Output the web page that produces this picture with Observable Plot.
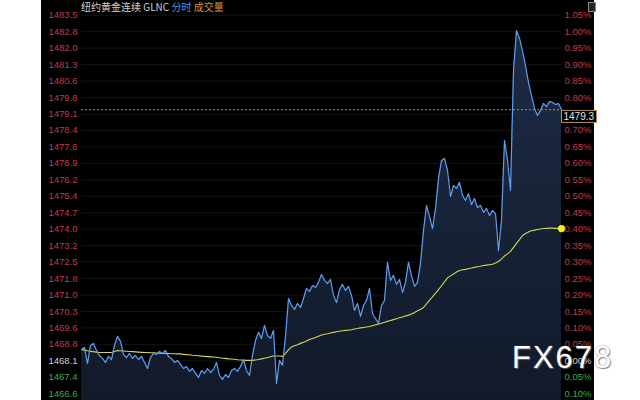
<!DOCTYPE html>
<html>
<head>
<meta charset="utf-8">
<script src="https://cdn.jsdelivr.net/npm/d3@7"></script>
<script src="https://cdn.jsdelivr.net/npm/@observablehq/plot@0.6"></script>
<style>
  html, body { margin: 0; padding: 0; background: #fff; }
  #wrap { position: relative; width: 640px; height: 400px; overflow: hidden; }
  #title { position: absolute; left: 81px; top: 0px; font-family: "Noto Sans CJK SC", sans-serif; font-size: 10px; line-height: 13px; white-space: nowrap; }
  #title .a { color: #cfcfcf; }
  #title .b { color: #4f8fdc; }
  #title .c { color: #d8913f; }
  #wm { position: absolute; left: 512px; top: 340px; font-family: "Liberation Sans", Arial, sans-serif; font-size: 31px; letter-spacing: 2px; color: #fff; text-shadow: 1px 1px 1px rgba(110,110,110,0.8), 0 0 2px rgba(90,90,90,0.6); white-space: nowrap; }
  #icon { position: absolute; left: 588px; top: 2px; width: 6px; height: 8px; border: 1px solid #888; background: #222; }
</style>
</head>
<body>
<div id="wrap">
  <div id="chart"></div>
  <div id="title"><span class="a">纽约黄金连续 GLNC</span> <span class="b">分时</span> <span class="c">成交量</span></div>
  <div id="icon"></div>
  <div id="wm">FX678</div>
</div>
<script>
// ---- data ----
const basePrice = 1468.1;   // previous close (0.00%)
const lastPrice = 1479.3;

const pctTicks = [-0.10, -0.05, 0.00, 0.05, 0.10, 0.15, 0.20, 0.25, 0.30, 0.35, 0.40, 0.45,
                  0.50, 0.55, 0.60, 0.65, 0.70, 0.75, 0.80, 0.85, 0.90, 0.95, 1.00, 1.05];
const priceTickLabels = ["1466.6","1467.4","1468.1","1468.8","1469.6","1470.3","1471.0","1471.8",
                  "1472.5","1473.2","1474.0","1474.7","1475.4","1476.2","1476.9","1477.6",
                  "1478.4","1479.1","1479.8","1480.6","1481.3","1482.0","1482.8","1483.5"];
const pctTickLabels = ["0.10%","0.05%","0.00%","0.05%","0.10%","0.15%","0.20%","0.25%",
                  "0.30%","0.35%","0.40%","0.45%","0.50%","0.55%","0.60%","0.65%",
                  "0.70%","0.75%","0.80%","0.85%","0.90%","0.95%","1.00%","1.05%"];

const prices = [
  1468.61,1468.70,1467.98,1468.79,1468.88,1468.56,1468.34,1468.21,1468.03,1468.30,
  1468.16,1468.79,1469.19,1468.97,1468.39,1468.25,1468.43,1468.21,1468.34,1468.16,
  1468.30,1468.03,1467.76,1468.25,1468.43,1468.39,1468.52,1468.43,1468.56,1468.30,
  1468.21,1468.03,1468.12,1467.94,1467.76,1467.85,1467.63,1467.76,1467.54,1467.36,
  1467.67,1467.54,1467.76,1467.58,1467.72,1468.03,1467.45,1467.27,1467.49,1467.36,
  1467.67,1467.76,1467.63,1467.85,1468.16,1467.67,1467.45,1468.34,1469.01,1469.37,
  1469.10,1469.68,1469.23,1469.10,1469.46,1467.09,1468.12,1467.90,1469.19,1470.88,
  1470.57,1470.39,1470.66,1470.48,1470.88,1471.33,1471.20,1471.46,1471.37,1471.60,
  1471.95,1471.69,1471.55,1471.73,1471.02,1470.70,1471.28,1471.51,1471.24,1471.42,
  1471.02,1470.35,1470.66,1470.08,1470.57,1470.79,1471.33,1470.21,1469.99,1469.77,
  1470.57,1470.79,1472.49,1471.69,1471.91,1471.51,1471.73,1471.15,1471.60,1472.49,
  1471.91,1471.42,1471.60,1472.44,1473.91,1475.03,1474.54,1474.00,1474.90,1476.23,
  1477.04,1477.13,1476.59,1475.43,1475.92,1475.79,1476.06,1475.48,1475.25,1475.56,
  1475.07,1475.34,1474.94,1475.03,1474.72,1474.90,1474.58,1474.81,1474.67,1473.02,
  1474.36,1477.93,1477.04,1475.70,1481.05,1482.83,1482.48,1481.94,1481.27,1480.51,
  1479.93,1479.36,1479.04,1479.27,1479.58,1479.44,1479.67,1479.62,1479.53,1479.58,
  1479.30
];

const avgPrices = [
  1468.61,1468.58,1468.55,1468.52,1468.51,1468.49,1468.47,1468.47,1468.47,1468.47,
  1468.47,1468.52,1468.56,1468.55,1468.54,1468.53,1468.52,1468.51,1468.50,1468.49,
  1468.48,1468.47,1468.47,1468.46,1468.46,1468.45,1468.44,1468.43,1468.43,1468.43,
  1468.42,1468.42,1468.41,1468.41,1468.39,1468.38,1468.37,1468.35,1468.34,1468.33,
  1468.31,1468.30,1468.29,1468.28,1468.27,1468.26,1468.24,1468.22,1468.21,1468.19,
  1468.18,1468.17,1468.15,1468.14,1468.13,1468.12,1468.12,1468.12,1468.14,1468.16,
  1468.19,1468.22,1468.25,1468.28,1468.32,1468.32,1468.32,1468.30,1468.43,1468.59,
  1468.72,1468.77,1468.82,1468.88,1468.93,1468.99,1469.05,1469.10,1469.14,1469.20,
  1469.25,1469.29,1469.31,1469.34,1469.37,1469.40,1469.42,1469.44,1469.46,1469.47,
  1469.49,1469.52,1469.54,1469.57,1469.59,1469.61,1469.63,1469.67,1469.71,1469.74,
  1469.78,1469.82,1469.86,1469.90,1469.94,1469.98,1470.02,1470.06,1470.10,1470.14,
  1470.19,1470.26,1470.33,1470.39,1470.48,1470.64,1470.80,1470.96,1471.11,1471.28,
  1471.45,1471.62,1471.80,1471.89,1471.97,1472.06,1472.13,1472.16,1472.18,1472.21,
  1472.24,1472.27,1472.30,1472.32,1472.35,1472.37,1472.39,1472.41,1472.46,1472.53,
  1472.64,1472.78,1472.87,1472.98,1473.16,1473.34,1473.51,1473.69,1473.78,1473.85,
  1473.90,1473.93,1473.96,1473.98,1474.00,1474.01,1474.02,1474.02,1474.01,1474.01,
  1474.00
];

// ---- derived tables ----
const series = prices.map((p, i) => ({i, price: p, avg: avgPrices[i]}));
const toPrice = pct => basePrice * (1 + pct / 100);
const ticks = pctTicks.map((p, k) => ({
  pct: p, price: toPrice(p), priceLabel: priceTickLabels[k], pctLabel: pctTickLabels[k],
  color: p > 0.0001 ? "#c23a4b" : (p < -0.0001 ? "#3ea84f" : "#d2d2d2")
}));
// the current-price tag on the right covers the percent label it sits on
const lastPct = (lastPrice / basePrice - 1) * 100;
const rightTicks = ticks.filter(t => !(t.pct < lastPct && lastPct - t.pct < 0.05));
const yMin = toPrice(-0.1204);
const yMax = toPrice(1.0947);
const last = series[series.length - 1];

const chart = Plot.plot({
  width: 640,
  height: 400,
  marginLeft: 81,
  marginRight: 79,
  marginTop: 0,
  marginBottom: 0,
  style: {
    background: "linear-gradient(to right, #fff 0px, #fff 41px, #000 41px, #000 594px, #fff 594px)",
    fontFamily: "'Liberation Sans', Arial, sans-serif",
    overflow: "visible"
  },
  x: {domain: [0, prices.length - 1], axis: null},
  y: {domain: [yMin, yMax], axis: null},
  color: {type: "identity"},
  marks: [
    Plot.ruleY(ticks, {y: "price", stroke: "#141414", strokeWidth: 1}),
    Plot.areaY(series, {x: "i", y1: yMin, y2: "price", fill: "url(#areaGrad)"}),
    Plot.ruleY([lastPrice], {stroke: "#c98a4c", strokeDasharray: "2,2", strokeWidth: 1}),
    Plot.line(series, {x: "i", y: "avg", stroke: "#d4d45a", strokeWidth: 1.1}),
    Plot.line(series, {x: "i", y: "price", stroke: "#5e9ef0", strokeWidth: 1.2}),
    Plot.dot([last], {x: "i", y: "avg", r: 3.6, fill: "#f4ef1c", stroke: "none"}),
    Plot.text(ticks, {y: "price", text: "priceLabel", frameAnchor: "left", textAnchor: "end", dx: -4, fill: "color", fontSize: 9.5}),
    Plot.text(rightTicks, {y: "price", text: "pctLabel", frameAnchor: "right", textAnchor: "start", dx: 3, fill: "color", fontSize: 9.5}),
    Plot.text([lastPrice], {y: d => d, text: d => d.toFixed(1), frameAnchor: "right", textAnchor: "start", dx: 2, dy: 7, fill: "#e2e2e2", fontSize: 10})
  ]
});

document.getElementById("chart").appendChild(chart);

// gradient definition for area
const svg = d3.select(chart);
const defs = svg.insert("defs", ":first-child");
const grad = defs.append("linearGradient").attr("id", "areaGrad")
  .attr("x1", 0).attr("y1", 0).attr("x2", 0).attr("y2", 1);
grad.append("stop").attr("offset", "0%").attr("stop-color", "#1c2b45");
grad.append("stop").attr("offset", "100%").attr("stop-color", "#121a2a");

// box around current price label
svg.selectAll("text").each(function() {
  if (this.textContent === lastPrice.toFixed(1)) {
    const bb = this.getBBox();
    const r = d3.select(this.parentNode).insert("rect", () => this)
      .attr("x", bb.x - 2).attr("y", bb.y - 0.5)
      .attr("width", bb.width + 4).attr("height", bb.height + 1)
      .attr("fill", "#000").attr("stroke", "#b58e62").attr("stroke-width", 1);
    const t = this.getAttribute("transform");
    if (t) r.attr("transform", t);
  }
});
</script>
</body>
</html>
